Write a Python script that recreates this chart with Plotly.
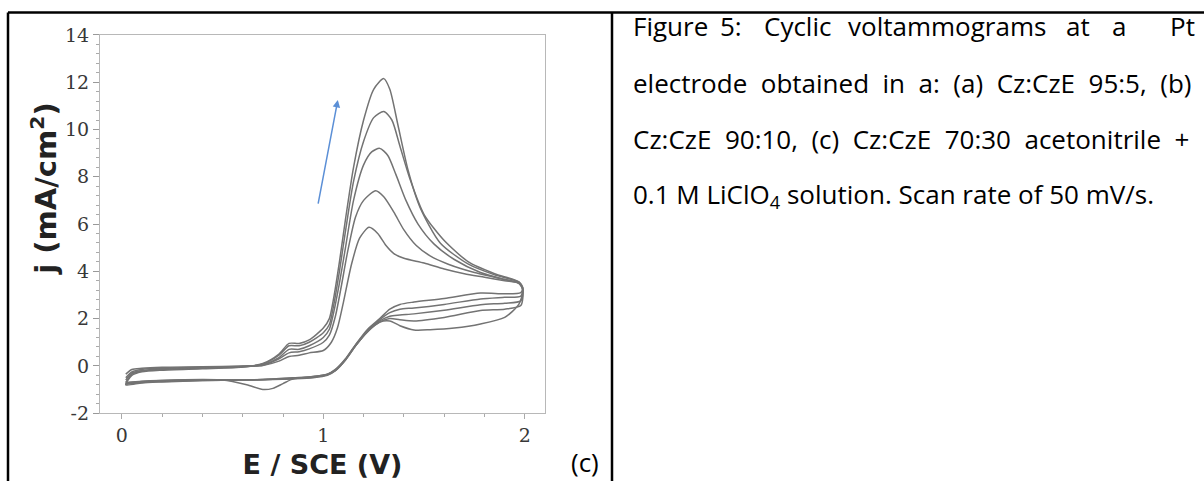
import plotly.graph_objects as go

W, H = 1204, 492

# ---------------- data ----------------
# forward (anodic) scans, cycles 1..5 (cycle 1 = largest peak)
E_fwd_1 = [0.02, 0.05, 0.1, 0.2, 0.4, 0.6, 0.7, 0.78, 0.83, 0.88, 0.93, 1.0, 1.03, 1.05, 1.08, 1.11, 1.15, 1.2, 1.25, 1.3, 1.33, 1.37, 1.42, 1.48, 1.58, 1.72, 1.85, 1.97]
J_fwd_1 = [-0.8, -0.4, -0.25, -0.18, -0.12, -0.05, 0.1, 0.5, 0.95, 0.95, 1.1, 1.6, 2.0, 2.8, 4.4, 6.2, 8.4, 10.4, 11.7, 12.15, 11.7, 10.2, 8.3, 6.7, 5.2, 4.3, 3.85, 3.55]
E_fwd_2 = [0.02, 0.05, 0.1, 0.2, 0.4, 0.6, 0.7, 0.78, 0.83, 0.88, 0.93, 1.0, 1.03, 1.05, 1.08, 1.11, 1.15, 1.2, 1.25, 1.3, 1.34, 1.38, 1.43, 1.5, 1.6, 1.72, 1.85, 1.97]
J_fwd_2 = [-0.7, -0.35, -0.22, -0.15, -0.1, -0.05, 0.08, 0.45, 0.85, 0.85, 1.0, 1.4, 1.75, 2.5, 4.0, 5.7, 7.8, 9.5, 10.5, 10.76, 10.4, 9.3, 7.9, 6.4, 5.3, 4.4, 3.9, 3.55]
E_fwd_3 = [0.02, 0.05, 0.1, 0.2, 0.4, 0.6, 0.7, 0.78, 0.83, 0.88, 0.93, 1.0, 1.03, 1.05, 1.08, 1.11, 1.15, 1.2, 1.24, 1.28, 1.32, 1.36, 1.41, 1.47, 1.55, 1.65, 1.78, 1.9, 1.97]
J_fwd_3 = [-0.6, -0.3, -0.2, -0.13, -0.08, -0.03, 0.05, 0.35, 0.7, 0.7, 0.85, 1.2, 1.55, 2.2, 3.5, 5.0, 7.0, 8.5, 9.05, 9.2, 8.9, 8.1, 7.0, 6.0, 5.15, 4.5, 3.95, 3.65, 3.5]
E_fwd_4 = [0.02, 0.05, 0.1, 0.2, 0.4, 0.6, 0.7, 0.78, 0.83, 0.88, 0.93, 1.0, 1.03, 1.06, 1.09, 1.12, 1.16, 1.2, 1.26, 1.3, 1.35, 1.4, 1.46, 1.53, 1.62, 1.75, 1.88, 1.97]
J_fwd_4 = [-0.5, -0.25, -0.15, -0.1, -0.06, -0.02, 0.03, 0.3, 0.55, 0.6, 0.72, 1.0, 1.3, 2.1, 3.4, 4.8, 6.3, 7.0, 7.41, 7.15, 6.5, 5.75, 5.1, 4.65, 4.3, 3.95, 3.7, 3.5]
E_fwd_5 = [0.02, 0.05, 0.1, 0.2, 0.4, 0.6, 0.7, 0.78, 0.83, 0.88, 0.93, 1.0, 1.04, 1.07, 1.1, 1.14, 1.18, 1.227, 1.27, 1.31, 1.35, 1.4, 1.5, 1.6, 1.7, 1.8, 1.9, 1.97]
J_fwd_5 = [-0.35, -0.15, -0.1, -0.06, -0.04, 0.0, 0.02, 0.2, 0.4, 0.45, 0.55, 0.65, 1.0, 1.6, 2.7, 4.3, 5.4, 5.86, 5.6, 5.1, 4.75, 4.55, 4.35, 4.1, 3.9, 3.75, 3.6, 3.5]

# reverse (cathodic) scans
E_rev_1 = [1.99, 1.98, 1.9, 1.78, 1.6, 1.45, 1.38, 1.33, 1.28, 1.22, 1.16, 1.11, 1.06, 1.02, 0.95, 0.85, 0.75, 0.6, 0.4, 0.2, 0.1, 0.02]
J_rev_1 = [3.3, 3.1, 3.05, 3.08, 2.85, 2.7, 2.6, 2.4, 2.0, 1.55, 0.9, 0.3, -0.15, -0.35, -0.45, -0.5, -0.55, -0.6, -0.62, -0.68, -0.72, -0.8]
E_rev_2 = [1.99, 1.98, 1.9, 1.78, 1.6, 1.45, 1.38, 1.33, 1.28, 1.22, 1.16, 1.11, 1.06, 1.02, 0.95, 0.85, 0.75, 0.6, 0.4, 0.2, 0.1, 0.02]
J_rev_2 = [3.3, 2.95, 2.9, 2.83, 2.6, 2.45, 2.4, 2.25, 1.95, 1.5, 0.88, 0.28, -0.17, -0.37, -0.47, -0.52, -0.56, -0.6, -0.62, -0.66, -0.7, -0.78]
E_rev_3 = [1.99, 1.98, 1.9, 1.78, 1.6, 1.45, 1.38, 1.33, 1.28, 1.22, 1.16, 1.11, 1.06, 1.02, 0.95, 0.85, 0.75, 0.6, 0.4, 0.2, 0.1, 0.02]
J_rev_3 = [3.25, 2.75, 2.65, 2.59, 2.35, 2.2, 2.15, 2.1, 1.9, 1.48, 0.86, 0.27, -0.18, -0.38, -0.48, -0.53, -0.57, -0.6, -0.6, -0.64, -0.68, -0.75]
E_rev_4 = [1.99, 1.98, 1.9, 1.78, 1.6, 1.45, 1.38, 1.33, 1.28, 1.22, 1.16, 1.11, 1.06, 1.02, 0.95, 0.85, 0.75, 0.6, 0.4, 0.2, 0.1, 0.02]
J_rev_4 = [3.2, 2.55, 2.4, 2.34, 2.05, 1.9, 1.95, 2.0, 1.85, 1.45, 0.85, 0.25, -0.2, -0.4, -0.5, -0.55, -0.58, -0.6, -0.58, -0.62, -0.66, -0.72]
E_rev_5 = [1.99, 1.97, 1.9, 1.78, 1.65, 1.53, 1.45, 1.38, 1.33, 1.28, 1.22, 1.16, 1.11, 1.06, 1.02, 0.95, 0.85, 0.8, 0.75, 0.7, 0.62, 0.5, 0.3, 0.1, 0.02]
J_rev_5 = [3.2, 2.6, 2.05, 1.77, 1.6, 1.53, 1.52, 1.7, 1.9, 1.85, 1.45, 0.85, 0.25, -0.2, -0.35, -0.45, -0.55, -0.75, -0.95, -1.0, -0.8, -0.6, -0.6, -0.65, -0.7]

# blue arrow (tail -> head), data units
ARROW_TAIL = (0.973, 6.8)
ARROW_HEAD = (1.072, 11.25)

x_ticks = [0, 1, 2]
y_ticks = [-2, 0, 2, 4, 6, 8, 10, 12, 14]

x_title = "<b>E / SCE (V)</b>"
y_title = "<b>j (mA/cm<sup>2</sup>)</b>"
panel_label = "(c)"
caption_line1 = ["Figure", "5:", "Cyclic", "voltammograms", "at", "a", "Pt"]
caption_line2 = "electrode obtained in a: (a) Cz:CzE 95:5, (b)"
caption_line3 = "Cz:CzE 90:10, (c) Cz:CzE 70:30 acetonitrile +"
caption_line4 = "0.1 M LiClO<sub>4</sub> solution. Scan rate of 50 mV/s."

# ---------------- figure ----------------
def px(x):
    return x / W

def py(y):
    return 1 - y / H

fig = go.Figure()
cycles = [
    (E_fwd_1 + E_rev_1, J_fwd_1 + J_rev_1),
    (E_fwd_2 + E_rev_2, J_fwd_2 + J_rev_2),
    (E_fwd_3 + E_rev_3, J_fwd_3 + J_rev_3),
    (E_fwd_4 + E_rev_4, J_fwd_4 + J_rev_4),
    (E_fwd_5 + E_rev_5, J_fwd_5 + J_rev_5),
]
for ex, jy in cycles:
    fig.add_trace(go.Scatter(x=ex, y=jy, mode="lines",
                             line=dict(color="#737373", width=1.5, shape="spline", smoothing=0.7),
                             showlegend=False, hoverinfo="skip"))

PLOT_L, PLOT_R, PLOT_T, PLOT_B = 100, 545, 25, 421

tickfont = dict(family="DejaVu Serif", size=19, color="#383838")
titlefont = dict(family="DejaVu Sans", size=27, color="#222222")
fig.update_xaxes(domain=[px(PLOT_L), px(PLOT_R)], range=[-0.108, 2.10],
                 tickvals=x_ticks, ticktext=[str(v) for v in x_ticks],
                 ticks="outside", ticklen=5, tickcolor="#aaaaaa", tickwidth=1,
                 minor=dict(dtick=0.2, ticks="outside", ticklen=3, tickcolor="#aaaaaa"),
                 showline=True, linecolor="#b8b8b8", linewidth=1.2, mirror=True,
                 showgrid=False, zeroline=False, tickfont=tickfont,
                 title=dict(text=x_title, font=titlefont, standoff=10))
fig.update_yaxes(domain=[py(PLOT_B), py(PLOT_T)], range=[-2, 14],
                 tickvals=y_ticks, ticktext=[str(v) for v in y_ticks],
                 ticks="outside", ticklen=6, tickcolor="#999999", tickwidth=1,
                 minor=dict(dtick=0.4, ticks="outside", ticklen=3, tickcolor="#aaaaaa"),
                 showline=True, linecolor="#b8b8b8", linewidth=1.2, mirror=True,
                 showgrid=False, zeroline=False, tickfont=tickfont)

# y-axis title sits above the axis centre in the original
fig.add_annotation(x=px(44), y=py(186), xref="paper", yref="paper", text=y_title, showarrow=False,
                   textangle=-90, xanchor="center", yanchor="middle",
                   font=dict(family="DejaVu Sans", size=29, color="#222222"))

fig.add_annotation(x=ARROW_HEAD[0], y=ARROW_HEAD[1], ax=ARROW_TAIL[0], ay=ARROW_TAIL[1],
                   xref="x", yref="y", axref="x", ayref="y", text="", showarrow=True,
                   arrowhead=2, arrowsize=1, arrowwidth=1.5, arrowcolor="#5b8fd6")

capfont = dict(family="Open Sans", size=26, color="#000000")
word_x = [631, 718, 762, 846, 1064, 1110, 1168]
for w, xw in zip(caption_line1, word_x):
    fig.add_annotation(x=px(xw), y=py(16), xref="paper", yref="paper", text=w, showarrow=False,
                       xanchor="left", yanchor="middle", font=capfont)
# lines 2 and 3 are justified in the original: widen each word gap a little
for txt, yy in [(caption_line2.replace(" ", " \u00a0"), 75),
                (caption_line3.replace(" ", " \u00a0"), 134),
                (caption_line4, 193)]:
    fig.add_annotation(x=px(631), y=py(yy), xref="paper", yref="paper", text=txt, showarrow=False,
                       xanchor="left", yanchor="middle", font=capfont)
fig.add_annotation(x=px(585), y=py(472), xref="paper", yref="paper", text=panel_label, showarrow=False,
                   xanchor="center", yanchor="middle", font=capfont)

# table borders
bk = dict(color="black", width=2.5)
fig.add_shape(type="line", xref="paper", yref="paper", x0=px(8), x1=1.0, y0=py(1.5), y1=py(1.5), line=bk)
fig.add_shape(type="line", xref="paper", yref="paper", x0=px(8), x1=px(8), y0=py(1.5), y1=0, line=bk)
fig.add_shape(type="line", xref="paper", yref="paper", x0=px(612), x1=px(612), y0=py(1.5), y1=0, line=bk)

fig.update_layout(width=W, height=H, margin=dict(l=0, r=0, t=0, b=0),
                  paper_bgcolor="white", plot_bgcolor="white")
fig.write_html("out.html", config={"displayModeBar": False},
               post_script="document.body.style.margin='0';document.body.style.overflow='hidden';")
